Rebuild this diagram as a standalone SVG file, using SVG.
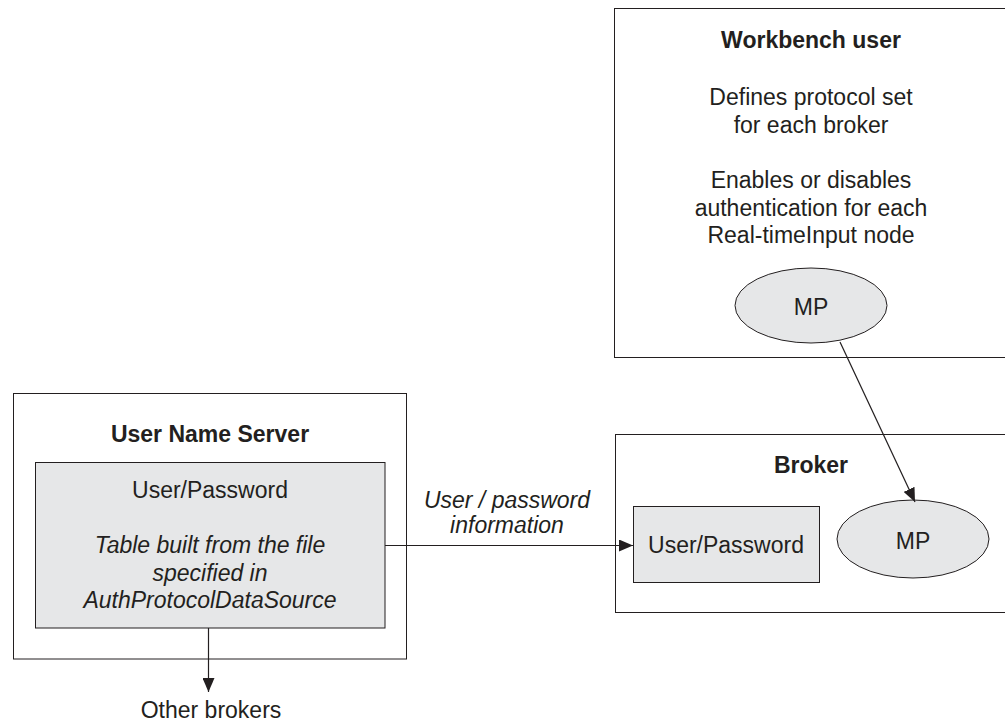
<svg xmlns="http://www.w3.org/2000/svg" width="1005" height="723" viewBox="0 0 1005 723">
<style>
text{font-family:"Liberation Sans",Arial,sans-serif;font-size:23px;fill:#231f20;text-anchor:middle}
.b{font-weight:bold}
.i{font-style:italic}
.box{fill:#fff;stroke:#231f20;stroke-width:1}
.in{fill:#e6e7e8;stroke:#231f20;stroke-width:1}
.ln{fill:none;stroke:#231f20;stroke-width:1.2}
</style>
<defs>
<marker id="ah" markerWidth="14" markerHeight="12" refX="14" refY="6" orient="auto" markerUnits="userSpaceOnUse">
<path d="M0,0 L14,6 L0,12 Z" fill="#231f20"/>
</marker>
</defs>
<rect width="1005" height="723" fill="#fff"/>
<g id="workbench">
<rect class="box" x="614.5" y="8.5" width="400" height="349"/>
<text class="b" x="811" y="48">Workbench user</text>
<text x="811" y="105">Defines protocol set</text>
<text x="811" y="133">for each broker</text>
<text x="811" y="188">Enables or disables</text>
<text x="811" y="216">authentication for each</text>
<text x="811" y="243">Real-timeInput node</text>
<ellipse class="in" cx="811" cy="305.5" rx="76" ry="37.5"/>
<text x="811" y="315">MP</text>
</g>
<g id="uns">
<rect class="box" x="13.5" y="393.5" width="393" height="265.5"/>
<text class="b" x="210" y="442">User Name Server</text>
<rect class="in" x="35.5" y="462.5" width="349.5" height="165.5"/>
<text x="210" y="498">User/Password</text>
<text class="i" x="210" y="553">Table built from the file</text>
<text class="i" x="210" y="581">specified in</text>
<text class="i" x="210" y="608">AuthProtocolDataSource</text>
</g>
<g id="broker">
<rect class="box" x="615.5" y="434.5" width="400" height="178"/>
<text class="b" x="811" y="473">Broker</text>
<rect class="in" x="633.5" y="506.5" width="186" height="76"/>
<text x="726" y="553">User/Password</text>
<ellipse class="in" cx="913" cy="539" rx="76" ry="39"/>
<text x="913" y="549">MP</text>
</g>
<g id="labels">
<text class="i" x="507" y="508">User / password</text>
<text class="i" x="507" y="533">information</text>
<text x="211" y="718">Other brokers</text>
</g>
<g id="connectors">
<line class="ln" x1="385" y1="545.5" x2="633" y2="545.5" marker-end="url(#ah)"/>
<line class="ln" x1="208.5" y1="628" x2="208.5" y2="692" marker-end="url(#ah)"/>
<line class="ln" x1="840" y1="342" x2="915" y2="502" marker-end="url(#ah)"/>
</g>
</svg>
